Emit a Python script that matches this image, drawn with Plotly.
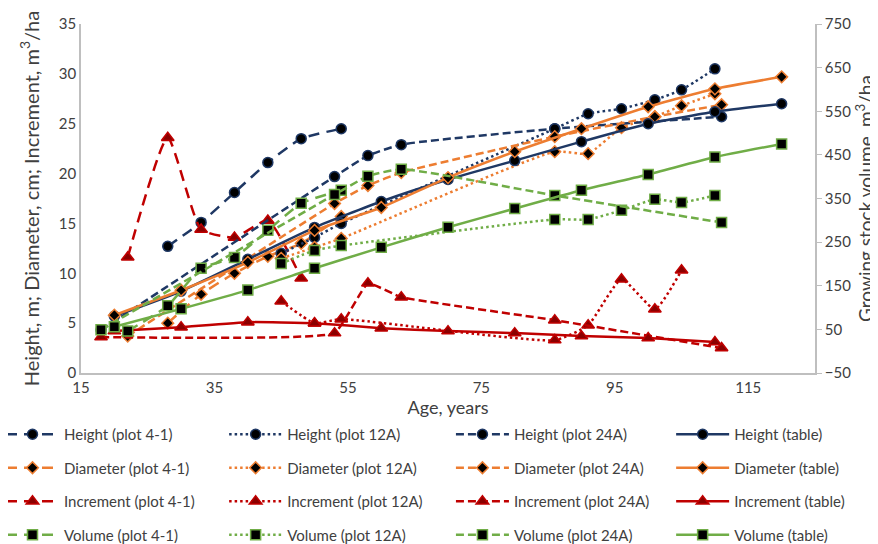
import plotly.graph_objects as go

# ---------------- data ----------------
ages_41 = [28, 33, 38, 43, 48, 54]
height_41 = [12.7, 15.1, 18.1, 21.1, 23.5, 24.5]
diam_41 = [5.0, 7.9, 10.0, 11.7, 13.0, 15.7]
ages_41_incr = [22, 28, 33, 38, 43, 48]
incr_41 = [11.6, 23.6, 14.4, 13.6, 15.3, 9.5]
ages_41_vol = [22, 28, 33, 38, 43, 48, 54]
vol_41 = [46, 104, 190, 215, 277, 339, 369]

ages_12 = [45, 50, 54, 86, 91, 96, 101, 105, 110]
height_12 = [12.0, 13.6, 15.0, 24.5, 26.0, 26.5, 27.4, 28.4, 30.5]
diam_12 = [11.5, 12.6, 13.5, 22.2, 22.0, 24.6, 25.7, 26.8, 28.0]
ages_12_incr = [45, 50, 54, 86, 91, 96, 101, 105]
incr_12 = [7.2, 5.0, 5.4, 3.3, 4.8, 9.4, 6.4, 10.3]
vol_12 = [201, 231, 242, 302, 302, 323, 348, 341, 357]

ages_24 = [18, 53, 58, 63, 86, 111]
height_24 = [4.3, 19.7, 21.8, 22.9, 24.5, 25.7]
ages_24_diam = [22, 53, 58, 63, 86, 101, 111]
diam_24 = [3.7, 17.0, 18.8, 20.1, 23.7, 25.7, 26.9]
incr_24 = [3.6, 4.0, 9.0, 7.6, 5.3, 2.5]
vol_24 = [49, 359, 401, 417, 357, 295]

ages_tab = [20, 30, 40, 50, 60, 70, 80, 90, 100, 110, 120]
height_tab = [5.7, 8.2, 11.4, 14.6, 17.2, 19.4, 21.3, 23.2, 25.0, 26.2, 27.0]
diam_tab = [5.8, 8.3, 11.1, 14.3, 16.6, 19.6, 22.2, 24.5, 26.7, 28.5, 29.7]
ages_tab_incr = [20, 30, 40, 50, 60, 70, 80, 90, 100, 110]
incr_tab = [4.2, 4.6, 5.1, 5.0, 4.5, 4.2, 4.0, 3.7, 3.5, 3.1]
vol_tab = [56, 97, 140, 190, 238, 284, 327, 369, 405, 445, 475]

x_ticks = [15, 35, 55, 75, 95, 115]

# ---------------- styles ----------------
NAVY = '#1F3864'
ORANGE = '#ED7D31'
RED = '#C00000'
GREEN = '#70AD47'
FONT = 'Lato'
TXT = '#404040'

DASH_41 = '11px,7px'
DASH_12 = '2.5px,3px'
DASH_24 = '8px,4px'
DASH_TAB = 'solid'

fig = go.Figure()


def add(name, x, y, color, dash, symbol, legend, yaxis='y', msize=9, mfill='black', smooth=0.5):
    fig.add_trace(go.Scatter(
        x=x, y=y, name=name, mode='lines+markers',
        line=dict(color=color, width=2.5, dash=dash, shape='spline', smoothing=smooth),
        marker=dict(symbol=symbol, size=msize, color=mfill, line=dict(color=color, width=1.5)),
        legend=legend, legendgroup=name, yaxis=yaxis))


# column 1: plot 4-1
add('Height (plot 4-1)', ages_41, height_41, NAVY, DASH_41, 'circle', 'legend', msize=10)
add('Diameter (plot 4-1)', ages_41, diam_41, ORANGE, DASH_41, 'diamond', 'legend', msize=9)
add('Increment (plot 4-1)', ages_41_incr, incr_41, RED, DASH_41, 'triangle-up', 'legend', msize=11, mfill='#8B0000')
add('Volume (plot 4-1)', ages_41_vol, vol_41, GREEN, DASH_41, 'square', 'legend', yaxis='y2', msize=10)
# column 2: plot 12A
add('Height (plot 12A)', ages_12, height_12, NAVY, DASH_12, 'circle', 'legend2', msize=10)
add('Diameter (plot 12A)', ages_12, diam_12, ORANGE, DASH_12, 'diamond', 'legend2', msize=9)
add('Increment (plot 12A)', ages_12_incr, incr_12, RED, DASH_12, 'triangle-up', 'legend2', msize=11, mfill='#8B0000')
add('Volume (plot 12A)', ages_12, vol_12, GREEN, DASH_12, 'square', 'legend2', yaxis='y2', msize=10)
# column 3: plot 24A
add('Height (plot 24A)', ages_24, height_24, NAVY, DASH_24, 'circle', 'legend3', msize=10)
add('Diameter (plot 24A)', ages_24_diam, diam_24, ORANGE, DASH_24, 'diamond', 'legend3', msize=9)
add('Increment (plot 24A)', ages_24, incr_24, RED, DASH_24, 'triangle-up', 'legend3', msize=11, mfill='#8B0000', smooth=0.3)
add('Volume (plot 24A)', ages_24, vol_24, GREEN, DASH_24, 'square', 'legend3', yaxis='y2', msize=10)
# column 4: table
add('Height (table)', ages_tab, height_tab, NAVY, DASH_TAB, 'circle', 'legend4', msize=10)
add('Diameter (table)', ages_tab, diam_tab, ORANGE, DASH_TAB, 'diamond', 'legend4', msize=9)
add('Increment (table)', ages_tab_incr, incr_tab, RED, DASH_TAB, 'triangle-up', 'legend4', msize=11, mfill='#8B0000', smooth=0.3)
add('Volume (table)', ages_tab, vol_tab, GREEN, DASH_TAB, 'square', 'legend4', yaxis='y2', msize=10)

AXC = '#BFBFBF'
leg_common = dict(orientation='v', xanchor='left', yanchor='top', y=-0.129,
                  font=dict(family=FONT, size=15, color=TXT), itemwidth=53,
                  tracegroupgap=11, bgcolor='rgba(0,0,0,0)', borderwidth=0)

fig.update_layout(
    width=878, height=544,
    margin=dict(l=73, r=71, t=16, b=179, autoexpand=False),
    plot_bgcolor='white', paper_bgcolor='white',
    font=dict(family=FONT, size=15, color=TXT),
    showlegend=True,
    xaxis=dict(range=[15, 125], tickvals=x_ticks, showline=True, linecolor=AXC, linewidth=1.5,
               showgrid=False, zeroline=False, ticks='',
               tickfont=dict(size=15, color=TXT),
               title=dict(text='Age, years', font=dict(size=18, color=TXT), standoff=4)),
    yaxis=dict(range=[0, 35], dtick=5, tick0=0, showline=True, linecolor=AXC, linewidth=1.5,
               showgrid=False, zeroline=False, ticks='',
               tickfont=dict(size=15, color=TXT),
               title=dict(text='Height, m; Diameter, cm; Increment, m<sup>3</sup>/ha',
                          font=dict(size=20, color=TXT), standoff=14)),
    yaxis2=dict(range=[-50, 750], dtick=100, tick0=-50, overlaying='y', side='right',
                showline=True, linecolor=AXC, linewidth=1.5, showgrid=False, zeroline=False,
                ticks='outside', ticklen=5, tickcolor=AXC,
                tickfont=dict(size=15, color=TXT),
                title=dict(text='Growing stock volume, m<sup>3</sup>/ha',
                           font=dict(size=19, color=TXT), standoff=10)),
    legend=dict(x=-0.109, **leg_common),
    legend2=dict(x=0.195, **leg_common),
    legend3=dict(x=0.504, **leg_common),
    legend4=dict(x=0.804, **leg_common),
)

fig.write_html('out.html')
